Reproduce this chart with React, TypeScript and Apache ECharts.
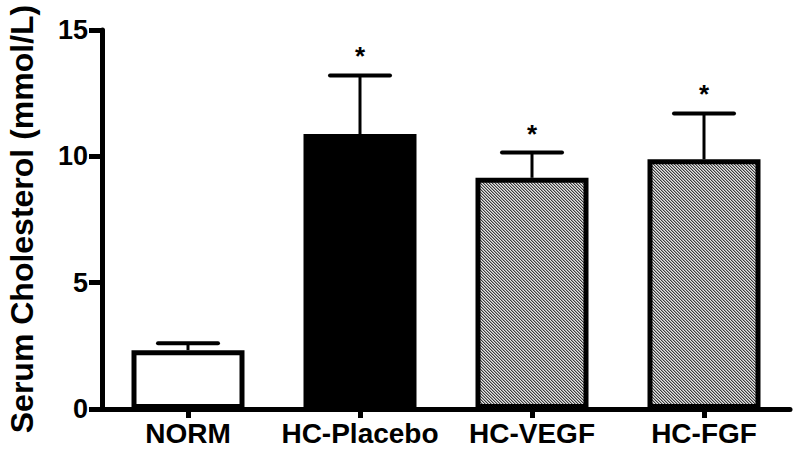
import React, { useEffect, useRef } from "react";
import * as echarts from "echarts";

const categories = ["NORM", "HC-Placebo", "HC-VEGF", "HC-FGF"];
const means = [2.33, 10.88, 9.15, 9.88];
const upperErrors = [2.6, 13.2, 10.15, 11.7];
const significant = [false, true, true, true];
const fills = ["white", "black", "hatch", "hatch"];
const yTicks = { min: 0, max: 15, interval: 5 };

const FONT = "'Liberation Sans', Arial, Helvetica, sans-serif";

function makeHatch(): string {
  const c = document.createElement("canvas");
  c.width = 6;
  c.height = 6;
  const ctx = c.getContext("2d")!;
  for (let x = 0; x < 6; x++) {
    for (let y = 0; y < 6; y++) {
      const m = (((x - y) % 3) + 3) % 3;
      ctx.fillStyle = m === 0 ? "#3c3c3c" : m === 1 ? "#a0a0a0" : "#e4e4e4";
      ctx.fillRect(x, y, 1, 1);
    }
  }
  return c.toDataURL();
}

export default function App() {
  const ref = useRef<HTMLDivElement>(null);
  useEffect(() => {
    if (!ref.current) return;
    const chart = echarts.init(ref.current, undefined, { renderer: "svg" });
    const hatch = makeHatch();
    const barData = means.map((v, i) => ({
      value: v,
      itemStyle: {
        color:
          fills[i] === "hatch"
            ? ({ image: hatch, repeat: "repeat" } as any)
            : fills[i],
      },
    }));
    const errData = means.map((v, i) => [i, v, upperErrors[i], significant[i] ? 1 : 0]);
    chart.setOption({
      animation: false,
      grid: { left: 102, right: 10, top: 30, bottom: 52, containLabel: false },
      xAxis: {
        type: "category",
        data: categories,
        axisLine: { show: true, lineStyle: { color: "#000", width: 5 } },
        axisTick: { show: true, alignWithLabel: true, interval: 0, length: 9, lineStyle: { color: "#000", width: 5 } },
        axisLabel: { interval: 0, color: "#000", fontSize: 28, fontWeight: "bold", fontFamily: FONT, margin: 10 },
      },
      yAxis: {
        type: "value",
        min: yTicks.min,
        max: yTicks.max,
        interval: yTicks.interval,
        splitLine: { show: false },
        axisLine: { show: true, lineStyle: { color: "#000", width: 5 } },
        axisTick: { show: true, length: 13, lineStyle: { color: "#000", width: 5 } },
        axisLabel: { color: "#000", fontSize: 27, fontWeight: "bold", fontFamily: FONT, margin: 14 },
      },
      graphic: [
        {
          type: "text",
          x: 22,
          y: 219,
          rotation: Math.PI / 2,
          style: {
            text: "Serum Cholesterol (mmol/L)",
            font: `bold 32px ${FONT}`,
            fill: "#000",
            textAlign: "center",
            textVerticalAlign: "middle",
          },
        },
      ],
      series: [
        {
          type: "custom",
          z: 1,
          data: errData,
          renderItem: (params: any, api: any) => {
            const base = api.coord([api.value(0), api.value(1)]);
            const top = api.coord([api.value(0), api.value(2)]);
            const x = base[0];
            const children: any[] = [
              {
                type: "line",
                shape: { x1: x, y1: base[1], x2: x, y2: top[1] },
                style: { stroke: "#000", lineWidth: 3 },
              },
              {
                type: "line",
                shape: { x1: x - 30, y1: top[1], x2: x + 30, y2: top[1] },
                style: { stroke: "#000", lineWidth: 4, lineCap: "round" },
              },
            ];
            if (api.value(3) === 1) {
              children.push({
                type: "text",
                x: x,
                y: top[1] - 32,
                style: {
                  text: "*",
                  font: `bold 26px ${FONT}`,
                  fill: "#000",
                  textAlign: "center",
                  textVerticalAlign: "top",
                },
              });
            }
            return { type: "group", children };
          },
        },
        {
          type: "bar",
          z: 2,
          data: barData,
          barWidth: 113,
          itemStyle: { borderColor: "#000", borderWidth: 5 },
        },
      ],
    });
    return () => chart.dispose();
  }, []);
  return <div ref={ref} style={{ width: 800, height: 461, position: "absolute", left: 0, top: 0 }} />;
}
